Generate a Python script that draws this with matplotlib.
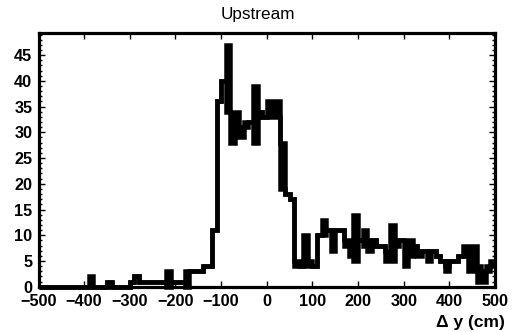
import numpy as np
import matplotlib
matplotlib.use("Agg")
import matplotlib.pyplot as plt
from matplotlib.ticker import MultipleLocator
from matplotlib.font_manager import FontProperties

# ---- data: 10 cm bins from -500 to 500, envelope (low / high) of the counts in each bin
bin_edges = np.arange(-500, 501, 10)
counts_low = [
    0, 0, 0, 0, 0, 0, 0, 0, 0, 0,        # -500 .. -400
    0, 0, 0, 0, 0, 1, 0, 0, 0, 0,        # -400 .. -300
    1, 2, 1, 1, 1, 1, 1, 1, 0, 1,        # -300 .. -200
    1, 1, 0, 3, 3, 3, 4, 4, 11, 36,      # -200 .. -100
    40, 34, 28, 30, 29, 31, 32, 28, 34, 33,   # -100 .. 0
    33, 33, 33, 19, 18, 17, 4, 4, 4, 4,  # 0 .. 100
    4, 10, 10, 11, 7, 11, 11, 8, 6, 5,   # 100 .. 200
    9, 8, 7, 9, 8, 8, 5, 5, 8, 9,        # 200 .. 300
    4, 6, 8, 6, 7, 5, 7, 6, 5, 3,        # 300 .. 400
    5, 5, 6, 6, 3, 3, 1, 1, 3, 4,        # 400 .. 500
]
counts_high = [
    0, 0, 0, 0, 0, 0, 0, 0, 0, 0,
    0, 2, 0, 0, 0, 1, 0, 0, 0, 0,
    1, 2, 1, 1, 1, 1, 1, 1, 3, 1,
    1, 1, 3, 3, 3, 3, 4, 4, 11, 36,
    40, 47, 34, 34, 31, 32, 32, 39, 34, 33,
    36, 36, 36, 28, 18, 17, 5, 4, 10, 5,
    4, 10, 13, 11, 11, 11, 11, 9, 8, 14,
    9, 11, 9, 9, 8, 8, 7, 12, 9, 9,
    9, 9, 8, 7, 7, 7, 7, 6, 5, 4,
    5, 5, 6, 8, 8, 8, 4, 3, 4, 5,
]

title_text = "Upstream"
x_label = "\u0394 y (cm)"

W, H, DPI = 516, 332, 100
fig = plt.figure(figsize=(W / DPI, H / DPI), dpi=DPI)
ax = fig.add_axes([38.5 / W, 1 - 286.7 / H, (495 - 38.5) / W, (286.7 - 33) / H])

lw_px = 4.5
lw = lw_px * 72 / DPI
lo = np.array(counts_low, dtype=float)
hi = np.array(counts_high, dtype=float)

ax.stairs(hi, bin_edges, baseline=lo, fill=True, color="black", lw=0)
for vals in (hi, lo):
    st = ax.stairs(vals, bin_edges, baseline=None, color="black", lw=lw)
    st.set_clip_on(False)
    st.set_joinstyle("miter")

ax.set_xlim(-500, 500)
ax.set_ylim(0, 49.3)

for s in ax.spines.values():
    s.set_linewidth(2.3)
    s.set_zorder(5)

ax.xaxis.set_major_locator(MultipleLocator(100))
ax.yaxis.set_major_locator(MultipleLocator(5))
ax.yaxis.set_minor_locator(MultipleLocator(1))
ax.tick_params(axis="both", which="both", direction="in", top=True, right=True,
               width=1.0, colors="black")
ax.tick_params(axis="x", which="major", length=4.0, pad=5)
ax.tick_params(axis="y", which="major", length=4.5, pad=4.5)
ax.tick_params(axis="y", which="minor", length=2.4)

lab_fp = FontProperties(family="Liberation Sans", weight="bold", size=11.7)
for t in ax.get_xticklabels() + ax.get_yticklabels():
    t.set_fontproperties(lab_fp)

fig.text(258 / W, 1 - 15 / H, title_text, ha="center", va="center",
         family="Liberation Sans", fontsize=12.3)
fig.text(505 / W, 1 - 322 / H, x_label, ha="right", va="center",
         family="Liberation Sans", fontweight="bold", fontsize=12.5)

fig.savefig("out.png", dpi=DPI)
